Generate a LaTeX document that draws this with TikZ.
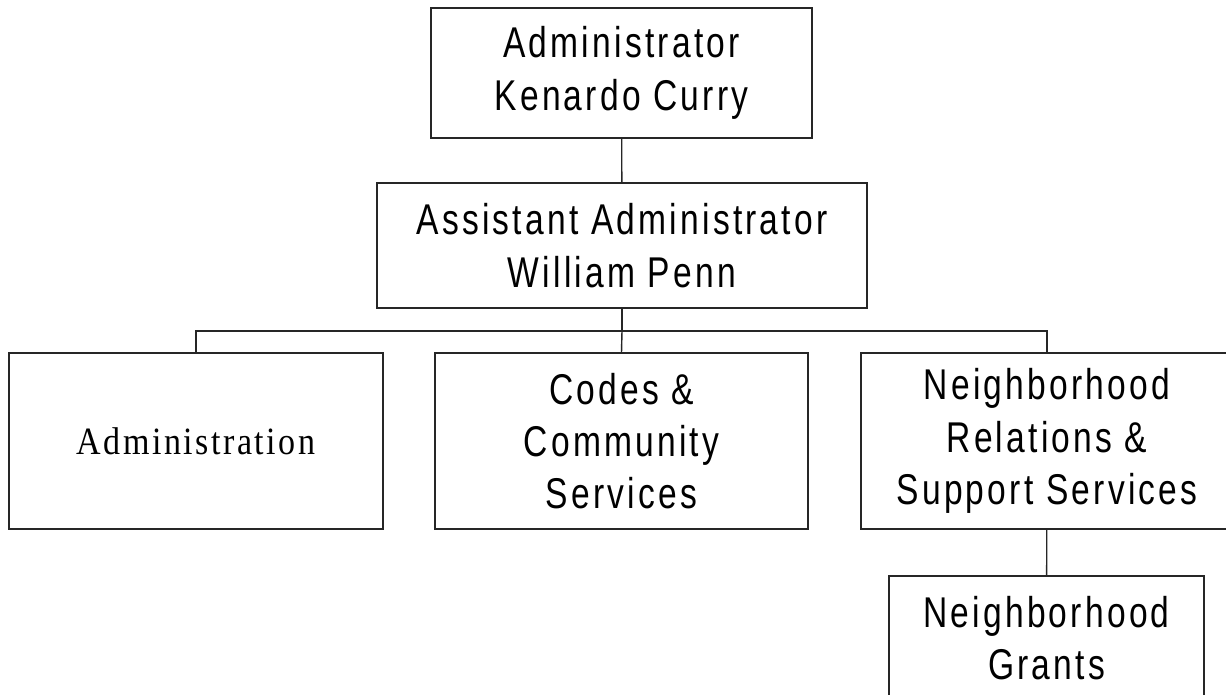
\documentclass[tikz,border=0pt]{standalone}
\usepackage{fontspec}
\newfontfamily\orgsans{Liberation Sans}[FakeStretch=0.78,LetterSpace=7.5]
\newfontfamily\orgserif{Liberation Serif}[FakeStretch=0.88,LetterSpace=6.5]
\begin{document}
\begin{tikzpicture}[x=0.02cm, y=-0.02cm,
    box/.style={draw=black!85, line width=0.8pt, align=center, inner sep=0pt,
      font=\orgsans\fontsize{24.5}{29.8}\selectfont},
    link/.style={draw=black!85, line width=0.8pt}]
  \clip (0,0) rectangle (1226,695);
  % boxes
  \node[box, minimum width=7.62cm, minimum height=2.6cm] (admin) at (621.5,73) {Administrator\\Kenardo Curry};
  \node[box, minimum width=9.8cm, minimum height=2.5cm] (asst) at (622,245.5) {Assistant Administrator\\William Penn};
  \node[box, minimum width=7.48cm, minimum height=3.52cm,
    font=\orgserif\fontsize{22}{26}\selectfont] (adm) at (196,441) {Administration};
  \node[box, minimum width=7.46cm, minimum height=3.52cm] (codes) at (621.5,441) {Codes \&\\Community\\Services};
  \node[box, minimum width=7.44cm, minimum height=3.52cm] (nrss) at (1047,441) {Neighborhood\\Relations \&\\Support Services};
  \node[box, minimum width=6.3cm, minimum height=2.48cm] (grants) at (1046.5,638) {Neighborhood\\Grants};
  % connectors
  \coordinate (bar) at (622,331);
  \draw[link] (admin) -- (asst);
  \draw[link] (asst) -- (bar);
  \draw[link] (adm.north) |- (bar) -| (nrss.north);
  \draw[link] (bar) -- (codes.north);
  \draw[link] (nrss) -- (grants);
\end{tikzpicture}
\end{document}
